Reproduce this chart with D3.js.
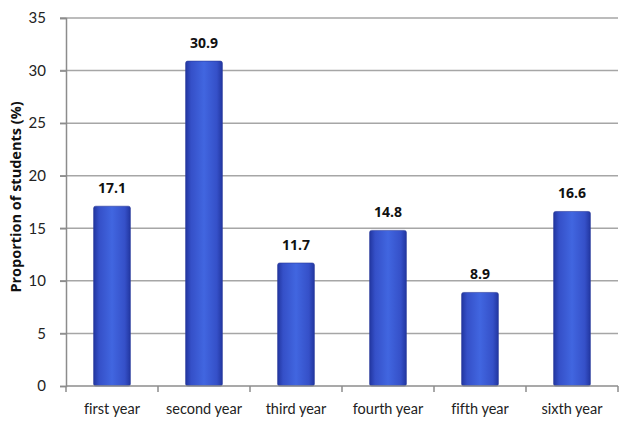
<!DOCTYPE html>
<meta charset="utf-8">
<head>
  <title>Proportion of students by year</title>
</head>
<style>
body { margin: 0; background: #fff; }
svg { display: block; }
text { font-variant-ligatures: none; }
.grid line { stroke: #a6a6a6; stroke-width: 1.5; }
.axis text { font-family: Lato, "Liberation Sans", sans-serif; font-size: 14.5px; fill: #222; }
.axis path, .axis line { stroke: #8c8c8c; stroke-width: 1.5; }
.val { font-family: "Open Sans", "Liberation Sans", sans-serif; font-size: 14px; font-weight: bold; fill: #111; }
.ytitle { font-family: "Open Sans", "Liberation Sans", sans-serif; font-size: 14.5px; font-weight: bold; fill: #111; }
</style>
<body>
<svg width="619" height="430"></svg>
<script src="https://cdnjs.cloudflare.com/ajax/libs/d3/7.8.5/d3.min.js"></script>
<script>
// data
var years = ["first year", "second year", "third year", "fourth year", "fifth year", "sixth year"];
var shares = [17.1, 30.9, 11.7, 14.8, 8.9, 16.6];
var yTicks = [0, 5, 10, 15, 20, 25, 30, 35];

var svg = d3.select("svg");
var mLeft = 66, mRight = 618, mTop = 18, mBottom = 386;

var x = d3.scaleBand().domain(years).range([mLeft, mRight]).paddingInner(0.6).paddingOuter(0.3);
var y = d3.scaleLinear().domain([0, 35]).range([mBottom, mTop]);

// bar gradient: darker edges, lighter middle
var defs = svg.append("defs");
var grad = defs.append("linearGradient").attr("id", "barfill")
    .attr("x1", "0%").attr("x2", "100%").attr("y1", "0%").attr("y2", "0%");
grad.append("stop").attr("offset", "0%").attr("stop-color", "#2236a0");
grad.append("stop").attr("offset", "15%").attr("stop-color", "#3550c8");
grad.append("stop").attr("offset", "50%").attr("stop-color", "#4166e0");
grad.append("stop").attr("offset", "85%").attr("stop-color", "#3550c8");
grad.append("stop").attr("offset", "100%").attr("stop-color", "#2236a0");

// gridlines
svg.append("g").attr("class", "grid")
  .selectAll("line").data(yTicks.slice(1)).enter().append("line")
    .attr("x1", mLeft - 6).attr("x2", mRight)
    .attr("y1", d => y(d)).attr("y2", d => y(d));

// y axis
var yAxis = svg.append("g").attr("class", "axis")
    .attr("transform", "translate(" + mLeft + ",0)")
    .call(d3.axisLeft(y).tickValues(yTicks).tickSize(6).tickPadding(14));
yAxis.selectAll("text").style("font-size", "15px");

// bars
svg.selectAll("rect.bar").data(years).enter().append("rect")
    .attr("class", "bar")
    .attr("x", d => x(d))
    .attr("width", x.bandwidth())
    .attr("y", (d, i) => y(shares[i]))
    .attr("height", (d, i) => y(0) - y(shares[i]))
    .attr("rx", 2)
    .attr("fill", "url(#barfill)")
    .attr("stroke", "#2a3a9a")
    .attr("stroke-width", 0.6);

// x axis
var xTickPos = years.map(d => x(d) - x.step() * x.paddingInner() / 2).concat([mRight]);
var xAxis = svg.append("g").attr("class", "axis");
xAxis.append("line").attr("x1", mLeft).attr("x2", mRight).attr("y1", mBottom).attr("y2", mBottom);
xAxis.selectAll("line.tk").data(xTickPos).enter().append("line").attr("class", "tk")
    .attr("x1", d => d).attr("x2", d => d).attr("y1", mBottom).attr("y2", mBottom + 6);
xAxis.selectAll("text").data(years).enter().append("text")
    .attr("x", d => x(d) + x.bandwidth() / 2)
    .attr("y", mBottom + 28)
    .attr("text-anchor", "middle")
    .text(d => d);

// value labels
svg.selectAll("text.val").data(years).enter().append("text")
    .attr("class", "val")
    .attr("x", d => x(d) + x.bandwidth() / 2)
    .attr("y", (d, i) => y(shares[i]) - 13)
    .attr("text-anchor", "middle")
    .text((d, i) => shares[i].toFixed(1));

// y title
svg.append("text").attr("class", "ytitle")
    .attr("transform", "translate(21,197) rotate(-90)")
    .attr("text-anchor", "middle")
    .text("Proportion of students (%)");
</script>
</body>
</html>
